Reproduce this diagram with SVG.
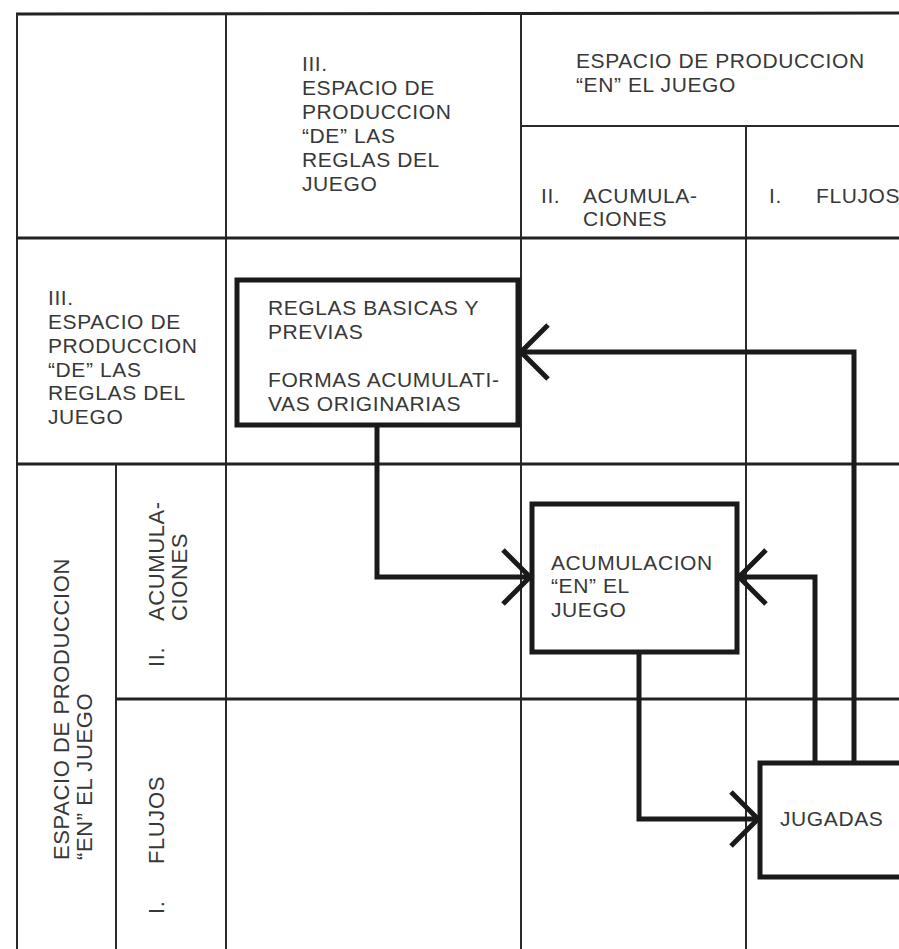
<svg xmlns="http://www.w3.org/2000/svg" width="899" height="949" viewBox="0 0 899 949">
<style>
.g{stroke:#2a2a2a;stroke-width:2;fill:none}
.gt{stroke:#222;stroke-width:3;fill:none}
.box{stroke:#1a1a1a;stroke-width:5;fill:#fff}
.c{stroke:#1a1a1a;stroke-width:5;fill:none;marker-end:url(#arr)}
text{font-family:"Liberation Sans",Arial,sans-serif;font-size:21px;fill:#383838;letter-spacing:0.6px}
.v{font-size:22px}
</style>
<defs>
<marker id="arr" markerUnits="userSpaceOnUse" viewBox="0 0 40 70" markerWidth="40" markerHeight="70" refX="34" refY="35" orient="auto">
<path d="M7,8 L34,35 L7,62" stroke="#1a1a1a" stroke-width="5" fill="none"/>
</marker>
</defs>
<rect width="899" height="949" fill="#fff"/>
<g id="grid">
<line class="gt" x1="16" y1="14" x2="899" y2="13"/>
<line class="g" x1="17" y1="14" x2="17" y2="949"/>
<line class="g" x1="226" y1="14" x2="226" y2="949"/>
<line class="g" x1="521" y1="14" x2="521" y2="949"/>
<line class="g" x1="746" y1="126" x2="746" y2="949"/>
<line class="g" x1="521" y1="126" x2="899" y2="126"/>
<line class="gt" x1="16" y1="238" x2="899" y2="238"/>
<line class="gt" x1="16" y1="464" x2="899" y2="464"/>
<line class="g" x1="116" y1="464" x2="116" y2="949"/>
<line class="gt" x1="116" y1="699" x2="899" y2="699"/>
</g>
<g id="col-header-III">
<text x="302" y="71">III.</text>
<text x="302" y="95">ESPACIO DE</text>
<text x="302" y="119">PRODUCCION</text>
<text x="302" y="143">“DE” LAS</text>
<text x="302" y="167">REGLAS DEL</text>
<text x="302" y="191">JUEGO</text>
</g>
<g id="col-header-en">
<text x="576" y="68">ESPACIO DE PRODUCCION</text>
<text x="576" y="92">“EN” EL JUEGO</text>
</g>
<g id="col-header-II">
<text x="541" y="203">II.</text>
<text x="583" y="203">ACUMULA-</text>
<text x="583" y="226">CIONES</text>
</g>
<g id="col-header-I">
<text x="769" y="203">I.</text>
<text x="816" y="203">FLUJOS</text>
</g>
<g id="row-header-III">
<text x="48" y="305">III.</text>
<text x="48" y="329">ESPACIO DE</text>
<text x="48" y="353">PRODUCCION</text>
<text x="48" y="377">“DE” LAS</text>
<text x="48" y="400">REGLAS DEL</text>
<text x="48" y="424">JUEGO</text>
</g>
<g id="row-header-en">
<text class="v" transform="translate(69,860) rotate(-90)">ESPACIO DE PRODUCCION</text>
<text class="v" transform="translate(92,860) rotate(-90)">“EN” EL JUEGO</text>
</g>
<g id="row-header-II">
<text class="v" transform="translate(164,667) rotate(-90)">II.</text>
<text class="v" transform="translate(164,621) rotate(-90)">ACUMULA-</text>
<text class="v" transform="translate(187,621) rotate(-90)">CIONES</text>
</g>
<g id="row-header-I">
<text class="v" transform="translate(164,914) rotate(-90)">I.</text>
<text class="v" transform="translate(164,864) rotate(-90)">FLUJOS</text>
</g>
<g id="connectors">
<path class="c" d="M854,763 V352 H521"/>
<path class="c" d="M815,763 V577 H739"/>
<path class="c" d="M377,425 V577 H530"/>
<path class="c" d="M639,652 V819 H758"/>
</g>
<g id="reglas-basicas">
<rect class="box" x="237" y="280" width="281" height="145"/>
<text x="268" y="315">REGLAS BASICAS Y</text>
<text x="268" y="339">PREVIAS</text>
<text x="268" y="387">FORMAS ACUMULATI-</text>
<text x="268" y="411">VAS ORIGINARIAS</text>
</g>
<g id="acumulacion">
<rect class="box" x="532" y="504" width="205" height="148"/>
<text x="551" y="570">ACUMULACION</text>
<text x="551" y="593">“EN” EL</text>
<text x="551" y="617">JUEGO</text>
</g>
<g id="jugadas">
<rect class="box" x="760" y="763" width="160" height="114"/>
<text x="780" y="826">JUGADAS</text>
</g>
</svg>
